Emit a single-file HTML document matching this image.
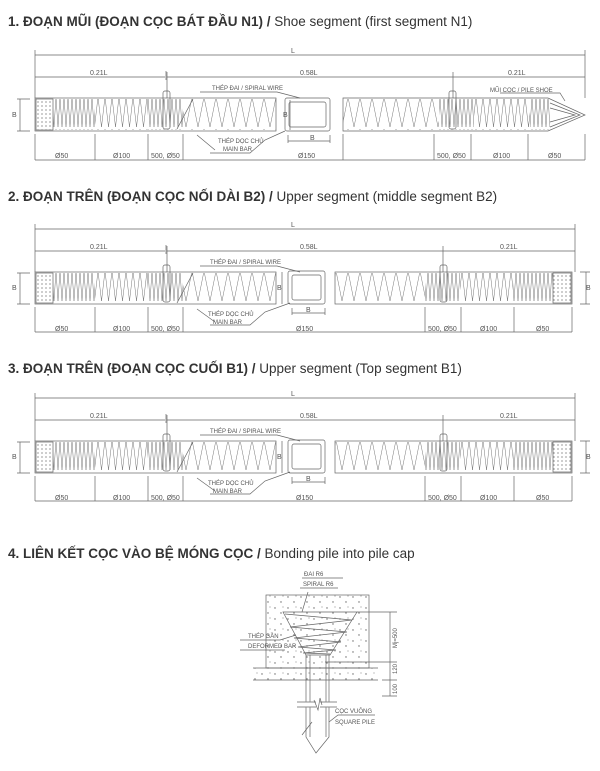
<!DOCTYPE html>
<html><head><meta charset="utf-8"><style>
html,body{margin:0;padding:0;background:#fff;}
svg{display:block;font-family:"Liberation Sans",sans-serif;}
.t{font-size:13.5px;fill:#333;}
.s{font-size:6px;fill:#555;}
.d{font-size:7px;fill:#555;}
</style></head><body>
<svg width="600" height="771" viewBox="0 0 600 771">
<defs>
<pattern id="z1" width="4" height="32" patternUnits="userSpaceOnUse"><path d="M0 1L2 31L4 1" fill="none" stroke="#777" stroke-width="0.5"/></pattern>
<pattern id="z2" width="7" height="32" patternUnits="userSpaceOnUse"><path d="M0 1L3.5 31L7 1" fill="none" stroke="#777" stroke-width="0.5"/></pattern>
<pattern id="z3" width="12" height="32" patternUnits="userSpaceOnUse"><path d="M0 1L6 31L12 1" fill="none" stroke="#777" stroke-width="0.5"/></pattern>
<pattern id="dots" width="4" height="4" patternUnits="userSpaceOnUse"><circle cx="2" cy="2" r="0.6" fill="#555"/></pattern>
<pattern id="cd" width="13" height="11" patternUnits="userSpaceOnUse"><circle cx="2" cy="3" r="0.7" fill="#666"/><circle cx="8" cy="8" r="0.7" fill="#666"/><circle cx="10" cy="2" r="0.5" fill="#666"/></pattern>
</defs>
<g stroke="#666" stroke-width="0.7" fill="none">
<!-- SEGMENT 1 -->
<g>
<path d="M35 55H585M35 50V98M585 50V98M35 77H165M167 77H585M167 72V98M453 72V98M166 71V80"/>
<rect x="35" y="98" width="241" height="33"/>
<rect x="36" y="99" width="17" height="31" fill="url(#dots)"/>
<rect x="53" y="99" width="42" height="31" fill="url(#z1)" stroke="none"/>
<rect x="95" y="99" width="52" height="31" fill="url(#z2)" stroke="none"/>
<rect x="147" y="99" width="36" height="31" fill="url(#z1)" stroke="none"/>
<rect x="183" y="99" width="93" height="31" fill="url(#z3)" stroke="none"/>
<rect x="163" y="91" width="7" height="38" rx="2"/>
<rect x="285" y="98" width="45" height="33" rx="2"/><rect x="289" y="102" width="37" height="25" rx="2"/>
<path d="M343 98H548L585 115L548 131H343Z"/>
<rect x="343" y="99" width="96" height="31" fill="url(#z3)" stroke="none"/>
<rect x="439" y="99" width="35" height="31" fill="url(#z1)" stroke="none"/>
<rect x="474" y="99" width="56" height="31" fill="url(#z2)" stroke="none"/>
<rect x="530" y="99" width="20" height="31" fill="url(#z1)" stroke="none"/>
<path d="M550 103L580 115L550 127M550 108L575 115L550 122"/>
<rect x="449" y="91" width="7" height="38" rx="2"/>
<path d="M20 99V131M17 99H30M17 131H30M290 100V130M288 135V143M330 135V143M288 141H330"/>
<path d="M35 134V160M95 134V160M148 134V160M183 134V160M343 134V160M434 134V160M471 134V160M528 134V160M585 134V160M35 160H585"/>
<path d="M200 92H277L300 98M210 153H250L265 140L285 131M193 99L177 129M197 135L215 150M500 93H560L565 101"/>
</g>
<!-- SEGMENT 2 -->
<g transform="translate(0,174)">
<path d="M35 55H575M35 50V98M575 50V98M35 77H165M167 77H575M167 72V98M443 72V98M166 71V80"/>
<rect x="35" y="98" width="241" height="32"/>
<rect x="36" y="99" width="17" height="30" fill="url(#dots)"/>
<rect x="53" y="99" width="42" height="30" fill="url(#z1)" stroke="none"/>
<rect x="95" y="99" width="52" height="30" fill="url(#z2)" stroke="none"/>
<rect x="147" y="99" width="36" height="30" fill="url(#z1)" stroke="none"/>
<rect x="183" y="99" width="93" height="30" fill="url(#z3)" stroke="none"/>
<rect x="163" y="91" width="7" height="37" rx="2"/>
<rect x="288" y="97" width="37" height="33" rx="2"/><rect x="292" y="101" width="29" height="25" rx="2"/>
<rect x="335" y="98" width="237" height="32"/>
<rect x="553" y="99" width="18" height="30" fill="url(#dots)"/>
<rect x="335" y="99" width="90" height="30" fill="url(#z3)" stroke="none"/>
<rect x="425" y="99" width="35" height="30" fill="url(#z1)" stroke="none"/>
<rect x="460" y="99" width="53" height="30" fill="url(#z2)" stroke="none"/>
<rect x="513" y="99" width="40" height="30" fill="url(#z1)" stroke="none"/>
<rect x="440" y="91" width="7" height="37" rx="2"/>
<path d="M20 99V130M17 99H30M17 130H30M282 98V130M292 134V141M325 134V141M292 139H325M586 98V130M580 98H590M580 130H590"/>
<path d="M35 133V158M95 133V158M148 133V158M183 133V158M425 133V158M461 133V158M514 133V158M572 133V158M35 158H572"/>
<path d="M200 92H277L300 98M210 151H250L265 138L290 129M193 99L177 129M197 135L215 148"/>
</g>
<!-- SEGMENT 3 -->
<g transform="translate(0,343)">
<path d="M35 55H575M35 50V98M575 50V98M35 77H165M167 77H575M167 72V98M443 72V98M166 71V80"/>
<rect x="35" y="98" width="241" height="32"/>
<rect x="36" y="99" width="17" height="30" fill="url(#dots)"/>
<rect x="53" y="99" width="42" height="30" fill="url(#z1)" stroke="none"/>
<rect x="95" y="99" width="52" height="30" fill="url(#z2)" stroke="none"/>
<rect x="147" y="99" width="36" height="30" fill="url(#z1)" stroke="none"/>
<rect x="183" y="99" width="93" height="30" fill="url(#z3)" stroke="none"/>
<rect x="163" y="91" width="7" height="37" rx="2"/>
<rect x="288" y="97" width="37" height="33" rx="2"/><rect x="292" y="101" width="29" height="25" rx="2"/>
<rect x="335" y="98" width="237" height="32"/>
<rect x="553" y="99" width="18" height="30" fill="url(#dots)"/>
<rect x="335" y="99" width="90" height="30" fill="url(#z3)" stroke="none"/>
<rect x="425" y="99" width="35" height="30" fill="url(#z1)" stroke="none"/>
<rect x="460" y="99" width="53" height="30" fill="url(#z2)" stroke="none"/>
<rect x="513" y="99" width="40" height="30" fill="url(#z1)" stroke="none"/>
<rect x="440" y="91" width="7" height="37" rx="2"/>
<path d="M20 99V130M17 99H30M17 130H30M282 98V130M292 134V141M325 134V141M292 139H325M586 98V130M580 98H590M580 130H590"/>
<path d="M35 133V158M95 133V158M148 133V158M183 133V158M425 133V158M461 133V158M514 133V158M572 133V158M35 158H572"/>
<path d="M200 92H277L300 98M210 151H250L265 138L290 129M193 99L177 129M197 135L215 148"/>
</g>
<!-- SECTION 4 -->
<rect x="266" y="595" width="103" height="73" fill="url(#cd)"/>
<rect x="253" y="668" width="125" height="12" fill="url(#cd)" stroke="none"/>
<path d="M253 668H378M253 680H378"/>
<path d="M306 655V737L316 753L329 737V655M310 655V737M326 655V737"/>
<path d="M297 703H337M297 706H337" stroke="#fff" stroke-width="3"/>
<path d="M297 702H316M320 702H337M297 707H316M320 707H337M314 700L318 710L320 698L322 705"/>
<path d="M283 612H357L330 655H306Z"/>
<path d="M285 614L352 620L290 627L347 632L294 638L341 642L298 647L336 650L303 653L330 654"/>
<path d="M302 578H343M300 588H338M308 592L302 612M240 640H280L296 635M240 650H285M357 612H397M325 662H397M390 612V680M382 680H397M390 680V696M382 696H397M329 722L338 715H375M302 735L312 722"/>
</g>
<g>
<text class="t" x="8" y="26"><tspan font-weight="bold">1. ĐOẠN MŨI (ĐOẠN CỌC BÁT ĐẦU N1) /</tspan> Shoe segment (first segment N1)</text>
<text class="t" x="8" y="201"><tspan font-weight="bold">2. ĐOẠN TRÊN (ĐOẠN CỌC NỐI DÀI B2) /</tspan> Upper segment (middle segment B2)</text>
<text class="t" x="8" y="373"><tspan font-weight="bold">3. ĐOẠN TRÊN (ĐOẠN CỌC CUỐI B1) /</tspan> Upper segment (Top segment B1)</text>
<text class="t" x="8" y="558"><tspan font-weight="bold">4. LIÊN KẾT CỌC VÀO BỆ MÓNG CỌC /</tspan> Bonding pile into pile cap</text>
</g>
<g class="d">
<text x="291" y="53">L</text><text x="90" y="75">0.21L</text><text x="300" y="75">0.58L</text><text x="508" y="75">0.21L</text>
<text x="55" y="158">Ø50</text><text x="113" y="158">Ø100</text><text x="151" y="158">500, Ø50</text><text x="298" y="158">Ø150</text><text x="437" y="158">500, Ø50</text><text x="493" y="158">Ø100</text><text x="548" y="158">Ø50</text>
<text x="291" y="227">L</text><text x="90" y="249">0.21L</text><text x="300" y="249">0.58L</text><text x="500" y="249">0.21L</text>
<text x="55" y="331">Ø50</text><text x="113" y="331">Ø100</text><text x="151" y="331">500, Ø50</text><text x="296" y="331">Ø150</text><text x="428" y="331">500, Ø50</text><text x="480" y="331">Ø100</text><text x="536" y="331">Ø50</text>
<text x="291" y="396">L</text><text x="90" y="418">0.21L</text><text x="300" y="418">0.58L</text><text x="500" y="418">0.21L</text>
<text x="55" y="500">Ø50</text><text x="113" y="500">Ø100</text><text x="151" y="500">500, Ø50</text><text x="296" y="500">Ø150</text><text x="428" y="500">500, Ø50</text><text x="480" y="500">Ø100</text><text x="536" y="500">Ø50</text>
<text x="310" y="140">B</text><text x="12" y="117">B</text><text x="283" y="117">B</text>
<text x="306" y="312">B</text><text x="12" y="290">B</text><text x="586" y="290">B</text><text x="277" y="290">B</text>
<text x="306" y="481">B</text><text x="12" y="459">B</text><text x="586" y="459">B</text><text x="277" y="459">B</text>
</g>
<g class="s">
<text x="212" y="90">THÉP ĐAI / SPIRAL WIRE</text><text x="218" y="143">THÉP DỌC CHỦ</text><text x="223" y="151">MAIN BAR</text><text x="490" y="92">MŨI CỌC / PILE SHOE</text>
<text x="210" y="264">THÉP ĐAI / SPIRAL WIRE</text><text x="208" y="316">THÉP DỌC CHỦ</text><text x="213" y="324">MAIN BAR</text>
<text x="210" y="433">THÉP ĐAI / SPIRAL WIRE</text><text x="208" y="485">THÉP DỌC CHỦ</text><text x="213" y="493">MAIN BAR</text>
<text x="304" y="576">ĐAI R6</text><text x="303" y="586">SPIRAL R6</text><text x="248" y="638">THÉP GẦN</text><text x="248" y="648">DEFORMED BAR</text>
<text x="335" y="713">CỌC VUÔNG</text><text x="335" y="724">SQUARE PILE</text>
<text transform="translate(397,648) rotate(-90)">Mj=500</text><text transform="translate(397,674) rotate(-90)">120</text><text transform="translate(397,694) rotate(-90)">100</text>
</g>
</svg>
</body></html>
